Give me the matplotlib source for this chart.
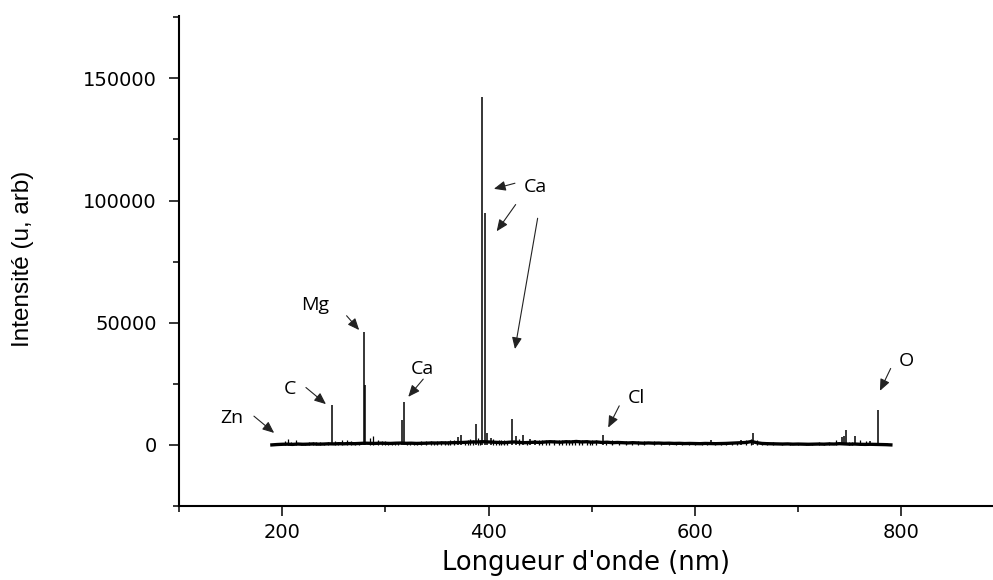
import numpy as np
import matplotlib
matplotlib.use('Agg')
import matplotlib.pyplot as plt
from matplotlib.ticker import MultipleLocator

# emission lines (nm, intensity)
line_wl = [247.9, 279.55, 280.27, 315.9, 317.9, 393.4, 396.8, 422.7, 388.3,
           373.7, 370.6, 398.8, 402.3, 426.6, 433.7, 440.0, 445.5,
           510.6, 616.0, 645.0, 656.3, 742.4, 744.2, 746.8, 755.0, 770.0, 777.4]
line_int = [16500, 46300, 24600, 10200, 17700, 142200, 95000, 10400, 8600,
            4100, 3300, 4900, 2900, 3700, 4100, 2500, 2000,
            4000, 2000, 1800, 4900, 3300, 3800, 6100, 3700, 1500, 14400]

# small spikes sitting on the baseline
spike_wl = [203, 205.5, 213.8, 230, 237, 250.7, 258, 262.7, 267, 285.2, 288, 293,
            300, 306, 324, 335, 344, 350, 358, 363, 367, 382, 390, 404, 410, 415,
            430, 452, 459, 468, 475, 481, 488, 495, 500, 520, 533, 545, 560, 588,
            600, 620, 630, 650, 654, 660, 670, 700, 720, 730, 737, 760, 766, 782,
            196, 199, 209, 218, 222, 226, 233, 241, 244, 254, 271, 274, 297, 303,
            309, 312, 321, 328, 331, 339, 347, 354, 361, 377, 380, 385, 392, 407,
            412, 418, 437, 449, 456, 463, 471, 478, 484, 491, 498, 504, 514, 526,
            539, 551, 567, 575, 582, 594, 607, 612, 625, 636, 641, 665, 676, 684,
            692, 708, 714, 725, 749, 752, 774, 786]
spike_int = [1500, 2400, 1800, 1200, 1000, 1500, 1800, 2000, 1500, 3000, 3500, 2000,
             1500, 1200, 1200, 1500, 1400, 1600, 1600, 1800, 2000, 2500, 3000, 2500, 2000, 2200,
             2500, 1800, 2000, 2000, 1800, 2200, 2100, 2000, 2100, 1800, 1500, 1600, 1400, 1200,
             1300, 1100, 1200, 2200, 2500, 2000, 1200, 900, 1200, 1300, 2000, 1800, 1600, 800,
             700, 900, 1000, 800, 900, 1100, 1000, 900, 1200, 1100, 1300, 1000, 1400, 1200,
             1100, 1300, 1100, 1200, 1300, 1400, 1200, 1500, 1600, 1700, 2000, 1900, 1800, 1700,
             1800, 1600, 1700, 1900, 1800, 2000, 1900, 1800, 2000, 1800, 1700, 1900, 1600, 1500,
             1500, 1400, 1300, 1200, 1300, 1100, 1100, 1200, 1000, 1100, 1300, 1200, 1000, 900,
             900, 800, 900, 900, 1200, 1100, 900, 700]

# continuum level, every 5 nm from 190 to 790 nm
base_wl = np.arange(190, 795, 5)
base_int = [0, 150, 250, 300, 200, 350, 250, 300, 400, 300,
            350, 450, 400, 500, 450, 550, 500, 600, 700, 650,
            600, 700, 650, 600, 700, 750, 650, 700, 600, 650,
            700, 800, 750, 850, 800, 900, 950, 1000, 1100, 1200,
            1200, 1300, 1200, 1100, 1000, 900, 1100, 1200, 1000, 900,
            1000, 1100, 1000, 1200, 1300, 1200, 1100, 1300, 1200, 1400,
            1200, 1300, 1100, 1200, 1000, 1100, 900, 1000, 900, 800,
            900, 800, 700, 800, 700, 750, 650, 700, 600, 650,
            550, 600, 550, 500, 600, 550, 500, 550, 600, 700,
            800, 900, 1000, 1400, 900, 600, 500, 450, 400, 350,
            400, 300, 350, 300, 250, 300, 350, 300, 400, 350,
            500, 400, 300, 350, 250, 200, 250, 200, 150, 100,
            0]

# element labels: (text, label pos, arrow tail, arrow head) in data coords
labels = [
    ('Zn', (151, 11000), (172.6, 11760), (192.2, 4900)),
    ('C', (207.5, 23070), (223, 23480), (242.4, 16680)),
    ('Mg', (231.7, 57370), (262.4, 52860), (274.6, 47000)),
    ('Ca', (335.7, 31020), (336.7, 26920), (322.2, 19670)),
    ('Ca', (445, 105730), (425.6, 107070), (405.2, 104780)),
    ('', None, (426.3, 98350), (407.9, 87410)),
    ('', None, (447.6, 92740), (425.6, 39220)),
    ('Cl', (542.9, 19380), (526.7, 15980), (516, 7090)),
    ('O', (805.4, 34140), (789.8, 31270), (779.4, 22130)),
]

fig = plt.figure(figsize=(9.93, 5.8), dpi=100)
ax = fig.add_axes([0.1803, 0.1276, 0.8197, 0.8448])

ax.plot(base_wl, base_int, color='black', lw=2.4)
ax.vlines(spike_wl, 0, spike_int, color='black', lw=0.9)
ax.vlines(line_wl, 0, line_int, color='black', lw=1.1)

for txt, pos, tail, head in labels:
    ax.annotate('', xy=head, xytext=tail,
                arrowprops=dict(arrowstyle='-|>,head_length=0.7,head_width=0.3',
                                color='#222222', lw=0.8, shrinkA=0, shrinkB=0))
    if txt:
        ax.text(pos[0], pos[1], txt, ha='center', va='center',
                fontsize=14, family='Open Sans')

ax.set_xlim(100, 889)
ax.set_ylim(-25000, 175500)
ax.xaxis.set_major_locator(MultipleLocator(200))
ax.xaxis.set_minor_locator(MultipleLocator(100))
ax.yaxis.set_major_locator(MultipleLocator(50000))
ax.yaxis.set_minor_locator(MultipleLocator(25000))

for s in ['top', 'right']:
    ax.spines[s].set_visible(False)
for s in ['left', 'bottom']:
    ax.spines[s].set_linewidth(1.5)

ax.tick_params(which='major', direction='out', length=7, width=1.1,
               labelsize=14, pad=5)
ax.tick_params(axis='y', which='major', pad=9)
ax.tick_params(which='minor', direction='out', length=4, width=1.1)
for lab in ax.get_xticklabels() + ax.get_yticklabels():
    lab.set_family('DejaVu Sans')

ax.set_xlabel("Longueur d'onde (nm)", fontsize=18.5, family='DejaVu Sans', labelpad=6)
fig.text(23 / 993, 1 - 259 / 580, 'Intensité (u, arb)', rotation=90,
         ha='center', va='center', fontsize=17.5, family='Liberation Sans')

fig.savefig('out.png', dpi=100)
